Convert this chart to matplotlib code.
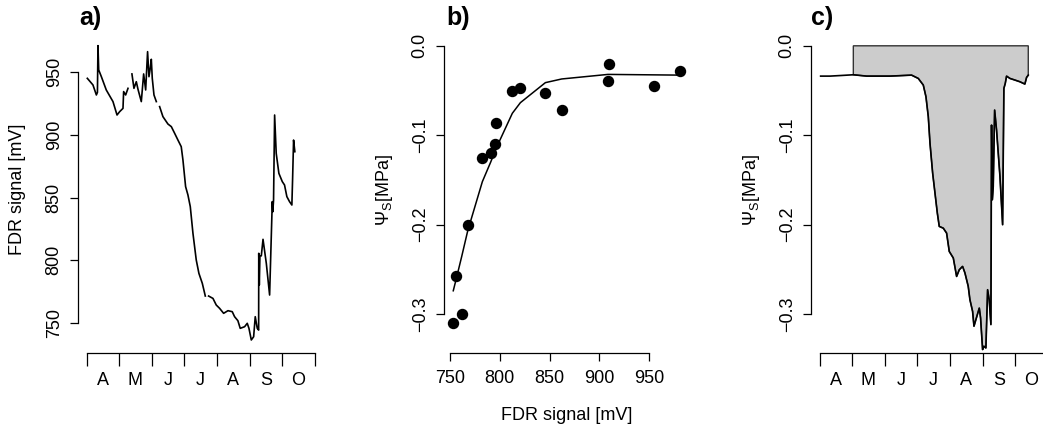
import numpy as np
import matplotlib
matplotlib.use("Agg")
import matplotlib.pyplot as plt

plt.rcParams["font.family"] = ["Liberation Sans", "DejaVu Sans"]
plt.rcParams["mathtext.fontset"] = "custom"
plt.rcParams["mathtext.rm"] = "Liberation Sans"
plt.rcParams["mathtext.it"] = "Liberation Sans:italic"

# x values are days since 1 April
month_ticks = [0, 30, 61, 91, 122, 153, 183, 214]
month_mid = [15, 45.5, 76, 106.5, 137.5, 168, 198.5]
month_labels = ["A", "M", "J", "J", "A", "S", "O"]

# a) FDR signal time series (nan = gap in record)
fdr_day = [0.3, 5.6, 8.8, 9.8, 10.3, 11, 13.5, 18.1, 24.4, 28.2, 30.7, 33.8, 34.4, 36.3, 38.5,
           40, 42.2, 44.1, 46.3, 47.9, 51, 53.2, 55.1, 56.9, 58.2, 59.4, 60.4, 61.3, 62.9, 65.1,
           66.5, 68.2, 71.3, 76, 79.2, 82.3, 85.4, 88.5, 90.1, 92.6, 94.8, 97, 99.5, 102.6,
           105.1, 108.3, 111.1, 112.5, 114.2, 118.3, 121.4, 124.5, 128.3, 132.4, 136.4, 138.6,
           141.7, 143.9, 148, 150.5, 152.1, 154.3, 156.5, 158, 159.9, 161.2, 161.3, 161.8,
           162.4, 163.7, 165.3, 168.4, 171.5, 174, 174.5, 175.2, 176.2, 177.7, 180.2, 183.4,
           185.5, 187.7, 190.2, 192.4, 193.1, 194, 195.2]
fdr_mv = [945.2, 939.9, 931.9, 934, 971.3, 951.9, 946.5, 935.9, 926.6, 915.9, 918.6, 921.2,
          934.6, 931.9, 937.2, np.nan, 948.7, 937.2, 942.5, 936.4, 926.6, 948.7, 935.9, 966.5,
          946.5, 953.2, 960.4, 945.2, 931.9, 926.6, np.nan, 922.6, 914.6, 908.7, 906.6, 901.3,
          895.9, 890.6, 880.0, 858.7, 852.0, 842.7, 821.4, 800.1, 789.4, 781.4, 771.3, np.nan,
          771.3, 769.4, 764.1, 761.5, 757.5, 759.6, 758.8, 754.8, 751.6, 745.5, 746.8, 749.5,
          745.5, 736.2, 738.8, 754.8, 745.5, 744.1, 805.4, 780.1, 803.4, 803.4, 816.6, 797.4,
          772.1, 846.7, 838.6, 848.0, 915.9, 885.3, 869.3, 862.7, 860.0, 850.7, 846.7, 844.0,
          865.3, 895.9, 886.6]

# b) calibration points and fitted curve
cal_fdr = [753.3, 756, 761.7, 767.8, 782.5, 790.9, 795.2, 796.2, 812.6, 820.7, 845.8, 862.2,
           909.2, 908.6, 954.4, 981.2]
cal_psi = [-0.310, -0.258, -0.300, -0.200, -0.125, -0.120, -0.110, -0.086, -0.050, -0.047,
           -0.053, -0.072, -0.020, -0.039, -0.045, -0.028]
fit_fdr = [753.3, 756, 761.7, 767.8, 782.5, 790.9, 795.2, 796.2, 812.6, 820.7, 845.8, 862.2,
           908.6, 909.2, 954.4, 981.2]
fit_psi = [-0.274, -0.262, -0.236, -0.207, -0.152, -0.130, -0.118, -0.115, -0.0755, -0.0636,
           -0.0412, -0.0371, -0.0320, -0.0320, -0.0325, -0.0328]

# c) soil water potential time series
psi_day = [0.6, 9.4, 20, 31.3, 43.8, 65.7, 86, 92.3, 97, 99.5, 101.7, 103.3, 105.8, 108, 110.2,
           112, 115.8, 118.9, 121.4, 125.2, 128.3, 130.8, 133.9, 136.1, 139.2, 140.8, 143.3,
           144.6, 146.4, 149.6, 150.8, 152.7, 153.9, 155.8, 157.4, 158.9, 160.5, 161.1, 161.8,
           162.7, 164, 165.8, 169, 171.5, 172.7, 174, 175.2, 178.4, 183, 187.7, 192.4, 194, 195.6]
psi_mpa = [-0.0339, -0.0339, -0.0332, -0.0324, -0.0339, -0.0339, -0.0328, -0.0365, -0.0439,
           -0.0569, -0.0793, -0.109, -0.1425, -0.1649, -0.1872, -0.202, -0.204, -0.2095, -0.23,
           -0.2374, -0.258, -0.2505, -0.2467, -0.254, -0.269, -0.284, -0.297, -0.3137, -0.3063,
           -0.2933, -0.3044, -0.3398, -0.336, -0.338, -0.2728, -0.284, -0.3119, -0.0886,
           -0.1723, -0.1574, -0.0718, -0.0942, -0.146, -0.2002, -0.0476, -0.042, -0.0339,
           -0.0365, -0.0383, -0.0402, -0.0428, -0.0354, -0.0328]
fill_from = 31.3

W, H = 1043, 430
fig = plt.figure(figsize=(W / 100, H / 100), dpi=100)


def make_axes(left, right, top, bottom):
    ax = fig.add_axes([left / W, 1 - bottom / H, (right - left) / W, (bottom - top) / H])
    ax.patch.set_alpha(0)
    ax.spines["top"].set_visible(False)
    ax.spines["right"].set_visible(False)
    for s in ["left", "bottom"]:
        ax.spines[s].set_linewidth(0.9)
    ax.tick_params(axis="y", direction="out", length=6, width=0.9, pad=5, labelsize=13)
    return ax


def month_axis(ax):
    ax.set_xticks(month_ticks)
    ax.set_xticklabels([])
    ax.set_xticks(month_mid, minor=True)
    ax.set_xticklabels(month_labels, minor=True)
    ax.tick_params(axis="x", which="major", direction="out", length=9, width=0.9)
    ax.tick_params(axis="x", which="minor", length=0, pad=14, labelsize=13)
    ax.spines["bottom"].set_bounds(month_ticks[0], month_ticks[-1])


def yticks_rot(ax, ticks, labels):
    ax.set_yticks(ticks)
    ax.set_yticklabels(labels, rotation=90, va="center")


def ylabel_at(ax, text, x_px, left, right):
    # x_px: right edge of the rotated label, in figure pixels
    ax.set_ylabel(text, fontsize=13)
    ax.yaxis.set_label_coords(-(left - x_px) / (right - left), (353 - 190) / (353 - 34))


# panel a
ax1 = make_axes(78, 317, 33, 353)
ax1.plot(fdr_day, fdr_mv, color="black", lw=1.2)
ax1.set_xlim(-8.45, 216)
ax1.set_ylim(725.8, 981.4)
yticks_rot(ax1, [750, 800, 850, 900, 950], ["750", "800", "850", "900", "950"])
ax1.spines["left"].set_bounds(750, 950)
month_axis(ax1)
ylabel_at(ax1, "FDR signal [mV]", 26, 78, 317)
fig.text(79 / W, 1 - 25 / H, "a)", fontsize=18, fontweight="bold", ha="left", va="baseline")

# panel b
ax2 = make_axes(444, 691, 34, 353)
ax2.plot(cal_fdr, cal_psi, "o", color="black", markersize=7.2)
ax2.plot(fit_fdr, fit_psi, color="black", lw=1.1)
ax2.set_xlim(744, 992)
ax2.set_ylim(-0.3436, 0.0132)
yticks_rot(ax2, [0, -0.1, -0.2, -0.3], ["0.0", "\u22120.1", "\u22120.2", "\u22120.3"])
ax2.spines["left"].set_bounds(-0.3, 0)
ax2.set_xticks([750, 800, 850, 900, 950])
ax2.spines["bottom"].set_bounds(750, 950)
ax2.tick_params(axis="x", direction="out", length=6, width=0.9, pad=6, labelsize=13)
ax2.set_xlabel("FDR signal [mV]", fontsize=13)
ax2.xaxis.set_label_coords((567 - 444) / (691 - 444), -(407 - 353) / (353 - 34))
ylabel_at(ax2, r"$\Psi_{\mathrm{S}}$[MPa]", 395, 444, 691)
fig.text(446 / W, 1 - 25 / H, "b)", fontsize=18, fontweight="bold", ha="left", va="baseline")

# panel c
ax3 = make_axes(811, 1050, 34, 353)
pd_ = np.array(psi_day)
pm_ = np.array(psi_mpa)
sel = pd_ >= fill_from
poly_x = np.concatenate([[fill_from], pd_[sel], [pd_[sel][-1]]])
poly_y = np.concatenate([[0], pm_[sel], [0]])
ax3.fill(poly_x, poly_y, facecolor="#cccccc", edgecolor="#333333", lw=1.0)
ax3.plot(psi_day, psi_mpa, color="black", lw=1.2)
ax3.set_xlim(-8.45, 216)
ax3.set_ylim(-0.3436, 0.0132)
yticks_rot(ax3, [0, -0.1, -0.2, -0.3], ["0.0", "\u22120.1", "\u22120.2", "\u22120.3"])
ax3.spines["left"].set_bounds(-0.3, 0)
month_axis(ax3)
ylabel_at(ax3, r"$\Psi_{\mathrm{S}}$[MPa]", 762, 811, 1050)
fig.text(811 / W, 1 - 25 / H, "c)", fontsize=18, fontweight="bold", ha="left", va="baseline")

fig.savefig("out.png", dpi=100)
